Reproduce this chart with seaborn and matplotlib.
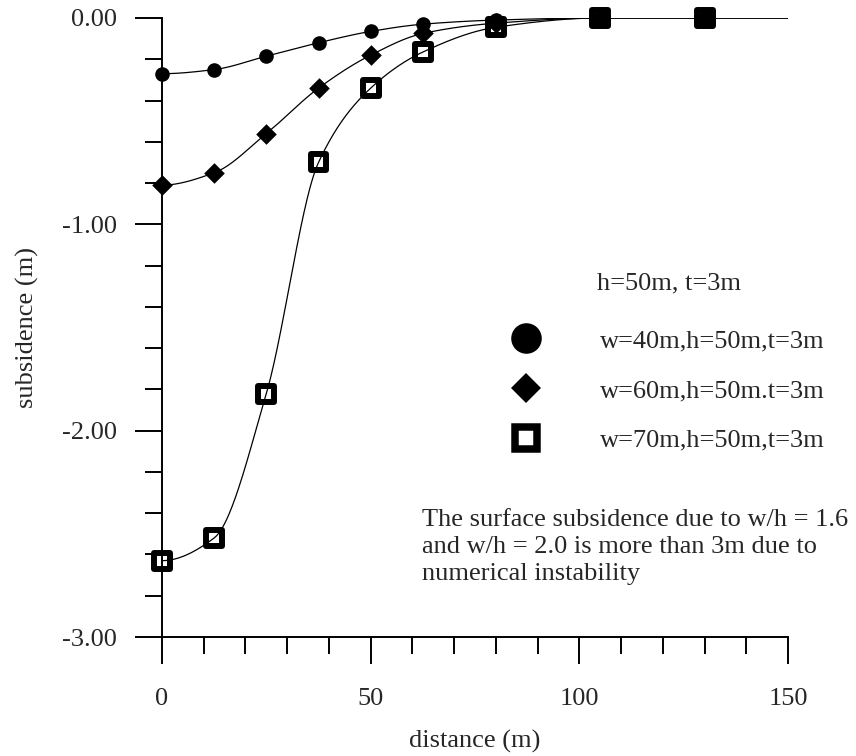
import numpy as np
import pandas as pd
import seaborn as sns
import matplotlib.pyplot as plt
from matplotlib.lines import Line2D
from matplotlib.ticker import MultipleLocator, FormatStrFormatter


# subsidence (m) at each distance (m)
distance = [0, 12.5, 25, 37.5, 50, 62.5, 80, 105, 130]
w40 = [-0.27, -0.25, -0.185, -0.12, -0.065, -0.03, -0.01, 0.0, 0.0]
w60 = [-0.81, -0.75, -0.56, -0.34, -0.18, -0.075, -0.025, 0.0, 0.0]
w70 = [-2.63, -2.52, -1.82, -0.70, -0.34, -0.165, -0.045, 0.0, 0.0]
x_end = 150  # curves run flat out to the end of the axis

labels = ['w=40m,h=50m,t=3m', 'w=60m,h=50m.t=3m', 'w=70m,h=50m,t=3m']
legend_title = 'h=50m, t=3m'
note = ('The surface subsidence due to w/h = 1.6\n'
        'and w/h = 2.0 is more than 3m due to\n'
        'numerical instability')


def smooth(x, y, n=600):
    # monotone cubic hermite curve through the points, flat at both ends
    x = np.asarray(list(x) + [x_end], float)
    y = np.asarray(list(y) + [0.0], float)
    h = np.diff(x)
    d = np.diff(y) / h
    m = np.zeros_like(x)
    for i in range(1, len(x) - 1):
        if d[i - 1] * d[i] > 0:
            w1 = 2 * h[i] + h[i - 1]
            w2 = h[i] + 2 * h[i - 1]
            m[i] = (w1 + w2) / (w1 / d[i - 1] + w2 / d[i])
    xs = np.linspace(x[0], x[-1], n)
    k = np.clip(np.searchsorted(x, xs) - 1, 0, len(h) - 1)
    t = (xs - x[k]) / h[k]
    ys = ((2 * t**3 - 3 * t**2 + 1) * y[k] + (t**3 - 2 * t**2 + t) * h[k] * m[k]
          + (-2 * t**3 + 3 * t**2) * y[k + 1] + (t**3 - t**2) * h[k] * m[k + 1])
    return xs, ys


sns.set_style('ticks')
plt.rcParams['font.family'] = ['Liberation Serif', 'DejaVu Serif']
plt.rcParams['font.size'] = 19

fig = plt.figure(figsize=(8.56, 7.56), dpi=100)
ax = fig.add_axes([162 / 856, 1 - 637 / 756, 626 / 856, 619 / 756])

df = pd.DataFrame({'distance': distance, 'w40': w40, 'w60': w60, 'w70': w70})

for col in ['w40', 'w60', 'w70']:
    xs, ys = smooth(df['distance'], df[col])
    sns.lineplot(x=xs, y=ys, color='black', lw=0.9, ax=ax,
                 estimator=None, sort=False, zorder=2)

sns.scatterplot(data=df, x='distance', y='w70', marker='s', s=132,
                facecolors='none', edgecolor='black', linewidth=4.3,
                ax=ax, clip_on=False, zorder=3)
sns.scatterplot(data=df, x='distance', y='w60', marker='D', s=110,
                color='black', linewidth=0, ax=ax, clip_on=False, zorder=4)
sns.scatterplot(data=df, x='distance', y='w40', marker='o', s=110,
                color='black', linewidth=0, ax=ax, clip_on=False, zorder=5)

ax.set_xlim(0, 150)
ax.set_ylim(-3, 0)
ax.xaxis.set_major_locator(MultipleLocator(50))
ax.xaxis.set_minor_locator(MultipleLocator(10))
ax.yaxis.set_major_locator(MultipleLocator(1))
ax.yaxis.set_minor_locator(MultipleLocator(0.2))
ax.yaxis.set_major_formatter(FormatStrFormatter('%.2f'))
ax.tick_params(which='major', direction='out', length=19.5, width=1.4,
               labelsize=19, color='black')
ax.tick_params(which='minor', direction='out', length=12.5, width=1.4,
               color='black')
ax.tick_params(axis='y', which='major', pad=13)
ax.tick_params(axis='x', which='major', pad=17)
sns.despine(ax=ax)
for side in ['left', 'bottom']:
    ax.spines[side].set_linewidth(1.4)
    ax.spines[side].set_color('black')

ax.set_xlabel('distance (m)', fontsize=19, va='center')
ax.xaxis.set_label_coords(0.5, -(741 - 637) / 619)
ax.set_ylabel('subsidence (m)', fontsize=19, va='center')
ax.yaxis.set_label_coords((27 - 162) / 626, 0.5)

handles = [
    Line2D([], [], ls='none', marker='o', color='black', markersize=22, markeredgewidth=0),
    Line2D([], [], ls='none', marker='D', color='black', markersize=15.3, markeredgewidth=0),
    Line2D([], [], ls='none', marker='s', markerfacecolor='white', markeredgecolor='black',
           markersize=16.2, markeredgewidth=5.4),
]
leg = ax.legend(handles, labels, title=legend_title, title_fontsize=19, fontsize=19,
                frameon=False, loc='upper left', bbox_to_anchor=(513 / 856, 1 - 272 / 756),
                bbox_transform=fig.transFigure, borderpad=0, borderaxespad=0,
                handlelength=1.0, handletextpad=2.3, labelspacing=1.0)
# a wider gap between the legend title and the first entry, as in the original
leg._legend_box.sep = 25

ax.text((422 - 162) / 626, 1 - (509 - 18) / 619, note, transform=ax.transAxes,
        ha='left', va='top', fontsize=19, linespacing=1.29)

fig.savefig('out.png', dpi=100)
